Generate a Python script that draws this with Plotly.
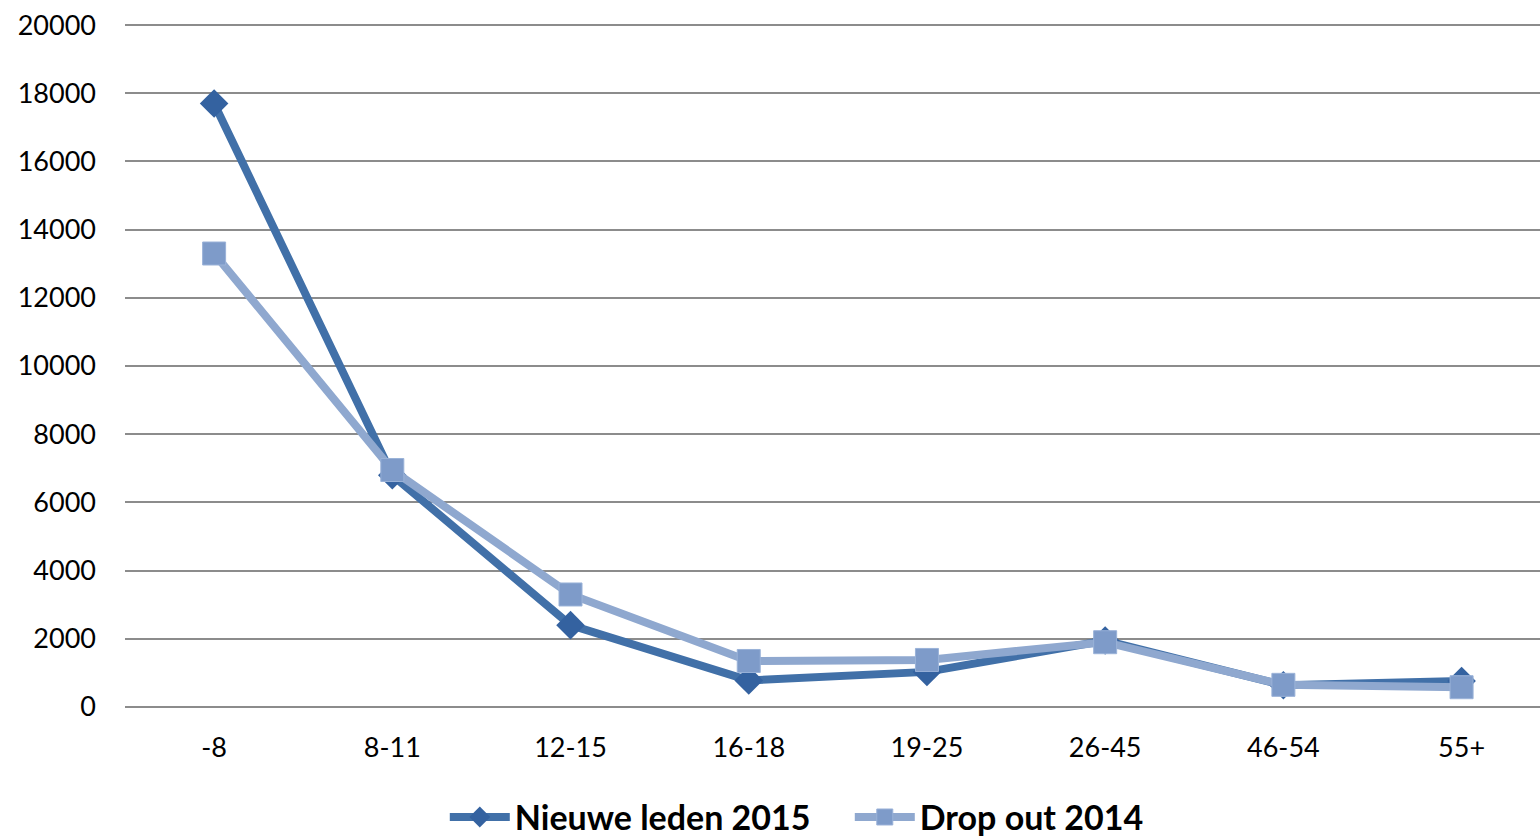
import plotly.graph_objects as go

categories = ["-8", "8-11", "12-15", "16-18", "19-25", "26-45", "46-54", "55+"]
nieuwe_leden_2015 = [17700, 6800, 2400, 780, 1030, 1950, 640, 760]
drop_out_2014 = [13300, 6950, 3300, 1350, 1380, 1900, 650, 580]
y_ticks = [0, 2000, 4000, 6000, 8000, 10000, 12000, 14000, 16000, 18000, 20000]

fig = go.Figure()
fig.add_trace(go.Scatter(
    x=categories, y=nieuwe_leden_2015, name="Nieuwe leden 2015",
    mode="lines+markers",
    line=dict(color="#4170A8", width=8),
    marker=dict(symbol="diamond", size=22, color="#3462A0"),
))
fig.add_trace(go.Scatter(
    x=categories, y=drop_out_2014, name="Drop out 2014",
    mode="lines+markers",
    line=dict(color="#8FA8CF", width=8),
    marker=dict(symbol="square", size=23, color="#7E9BC9",
                line=dict(color="#9AB2D8", width=1)),
))

fig.update_layout(
    width=1540, height=836,
    margin=dict(l=125, r=0, t=23, b=129, autoexpand=False),
    plot_bgcolor="white", paper_bgcolor="white",
    font=dict(family="Lato, Open Sans, sans-serif", size=27, color="#000000"),
    showlegend=True,
    legend=dict(orientation="h", x=0.226, xanchor="left", y=-0.119, yanchor="top",
                font=dict(size=34, family="Lato, Open Sans, sans-serif", weight="bold"),
                itemwidth=60, entrywidth=330, tracegroupgap=0),
)
fig.update_xaxes(
    type="category", range=[-0.5, 7.44], showgrid=False, showline=False,
    ticks="", tickfont=dict(size=27), zeroline=False, automargin=False,
    ticklabelstandoff=22,
)
fig.update_yaxes(
    range=[0, 20060], tickvals=y_ticks, ticktext=[str(v) for v in y_ticks],
    showgrid=True, gridcolor="#8C8C8C", gridwidth=2,
    zeroline=True, zerolinecolor="#8C8C8C", zerolinewidth=2,
    showline=False, ticks="", ticklabelstandoff=28, tickfont=dict(size=27),
    automargin=False,
)

fig.write_html("out.html", config={"displayModeBar": False},
               post_script="document.body.style.margin='0';document.body.style.overflow='hidden';")
